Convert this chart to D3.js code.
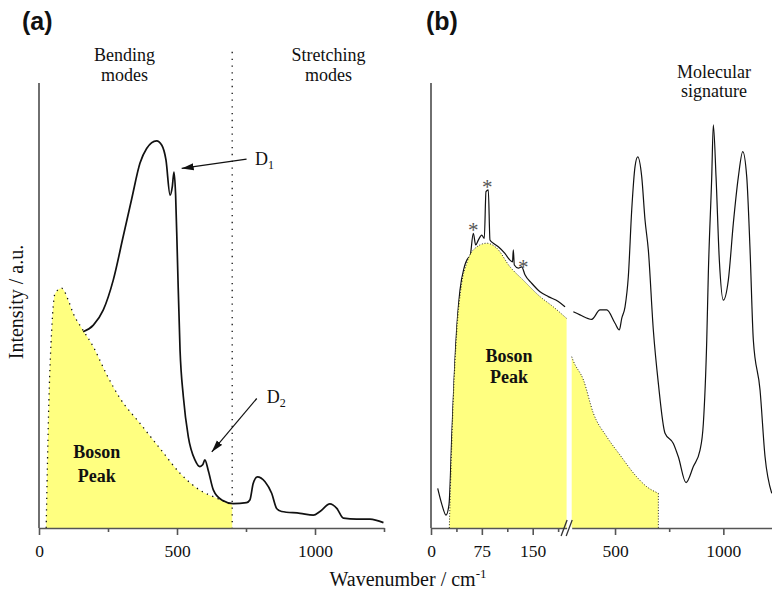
<!DOCTYPE html>
<html>
<head>
<meta charset="utf-8">
<script src="https://cdn.jsdelivr.net/npm/d3@7"></script>
<style>
  body { margin: 0; background: #fff; }
  svg { font-family: "Liberation Serif", "Times New Roman", Times, serif; }
  svg text { font-family: "Liberation Serif", "Times New Roman", Times, serif; fill: #111; }
  svg text.panel-tag { font-family: "Liberation Sans", Arial, sans-serif; font-weight: bold; }
  .x.axis path, .x.axis line { stroke: #555; stroke-width: 1.6; }
  .x.axis text { font-size: 17.5px; }
</style>
</head>
<body>
<div id="chart-area"></div>
<script>
// panel (a) Raman spectrum: [wavenumber, intensity]
const spectrumA = [
  [160, 44.1], [197, 45.6], [233, 49], [269, 55.7], [305, 65.5], [336, 74], [366, 82],
  [390, 85.3], [426, 87], [445, 86], [460, 82.7], [475, 74.8], [483, 76.7], [489, 80],
  [495, 74.8], [501, 61.8], [511, 40], [523, 29.5], [541, 20.5], [565, 15.3], [583, 13.8],
  [593, 14.2], [601, 15.3], [613, 13], [632, 8.5], [662, 6.3], [704, 5.5], [752, 5.7],
  [764, 6.3], [776, 10], [791, 11.5], [819, 10.4], [843, 7.8], [861, 4.4], [879, 3.7],
  [946, 3.3], [994, 2.9], [1018, 3.7], [1054, 5.4], [1079, 4.4], [1103, 2.2], [1151, 2.0],
  [1199, 2.0], [1248, 1.2]
];
const bosonA = [
  [26, 0], [36, 28.8], [46, 44.5], [58, 52.7], [82, 53.9], [106, 51.2], [124, 48.2],
  [155, 44.9], [197, 40.7], [245, 34.5], [293, 29.2], [366, 23.5], [438, 17.9],
  [511, 12.3], [583, 8.5], [644, 6.7], [700, 5.2]
];
// panel (b), low-frequency part (0-200 cm-1)
const spectrumBLow = [
  [9.9, 8.9], [16.2, 5.2], [22.1, 2.9], [26.5, 5.2], [31, 22], [36.9, 42.2], [42.8, 53.5],
  [48.7, 58.4], [55, 60.7], [57.5, 61], [62.4, 66.2], [65.9, 63.6], [69.8, 64.7],
  [74.8, 65.8], [78.6, 65.1], [81.1, 75.6], [84.5, 76], [87, 64.7], [91.9, 64],
  [99.3, 63.2], [109, 61.7], [116.5, 60.2], [120.2, 59.8], [121.4, 62.5], [122.9, 59.1],
  [128.8, 58.4], [133.8, 58.7], [138.6, 56.9], [148.5, 55], [160.8, 53.1], [173, 52],
  [187.8, 50.9], [197.6, 49.7]
];
const bosonBLow = [
  [27, 0], [32.9, 28.8], [37.9, 43.8], [45.3, 55], [52.7, 59.5], [62.4, 62.5], [82.2, 64],
  [96.9, 62.9], [116.5, 58.7], [136, 55.7], [160.8, 52], [180.4, 49.7], [200, 47.1]
];
// panel (b), high-frequency part (300-1250 cm-1)
const spectrumBHigh = [
  [307.5, 48.6], [338.4, 47.9], [392.4, 46.9], [430.7, 49], [461.7, 49], [500, 46],
  [519.9, 44.5], [531, 47.1], [546.2, 49.7], [561.4, 56.5], [577.1, 71.5], [592.3, 81.2],
  [604.8, 83.4], [623.3, 78.9], [638.5, 69.2], [653.7, 62.5], [676.8, 44.5], [700, 32.5],
  [730.8, 21.3], [769.2, 19], [792.2, 16], [827.8, 10.2], [861.5, 13.8], [892.4, 17.5],
  [907.7, 23.5], [923.4, 42.2], [930.7, 57.2], [946.4, 78.9], [953.8, 90.6], [966.3, 78.9],
  [981.5, 60.2], [1000, 51.2], [1023, 55.7], [1046.2, 68.5], [1069.3, 78.9], [1089.6, 84.6],
  [1108, 78.9], [1123.3, 62.5], [1138.5, 42.2], [1169.4, 31], [1192.5, 16], [1223.4, 7.8]
];
const bosonBHigh = [
  [300, 38.5], [307, 37.6], [354, 33.3], [400, 25.8], [462, 20.5], [523, 16.4],
  [600, 11.5], [646, 9.3], [700, 7.8]
];
const stars = [[62.4, 65.4], [83, 75.1], [136, 57.1]];

const ticksA = [0, 500, 1000];
const minorA = [250, 750, 1250];
const ticksBLow = [0, 75, 150];
const minorBLow = [37.5, 112.5, 187.5];
const ticksBHigh = [500, 1000];
const minorBHigh = [750];

const chartSize = { width: 772, height: 591 };
const axisY = 528, axisTop = 83;
const serif = '"Liberation Serif", "Times New Roman", Times, serif';

const y = d3.scaleLinear().domain([0, 100]).range([axisY, axisTop]);
const xa = d3.scaleLinear().domain([0, 1250]).range([39, 384]);
const xbL = d3.scaleLinear().domain([0, 200]).range([431, 566.6]);
const xbR = d3.scaleLinear().domain([300, 1250]).range([571.7, 777.5]);

const svg = d3.select('#chart-area').append('svg')
  .attr('width', chartSize.width)
  .attr('height', chartSize.height)
  .attr('font-family', serif);

svg.append('defs').append('marker')
  .attr('id', 'arrow')
  .attr('markerUnits', 'userSpaceOnUse')
  .attr('markerWidth', 13).attr('markerHeight', 8)
  .attr('refX', 12).attr('refY', 4)
  .attr('orient', 'auto')
  .append('path')
  .attr('d', 'M0,0.5 L12,4 L0,7.5 Z')
  .attr('fill', '#111');

const drawBoson = (g, x, pts, closeRight, dash) => {
  const area = d3.area().curve(d3.curveMonotoneX)
    .x(d => x(d[0])).y0(y(0)).y1(d => y(d[1]));
  g.append('path').datum(pts)
    .attr('d', area)
    .attr('fill', '#ffff80');
  const line = d3.line().curve(d3.curveMonotoneX)
    .x(d => x(d[0])).y(d => y(d[1]));
  g.append('path').datum(pts)
    .attr('d', line)
    .attr('fill', 'none').attr('stroke', '#111')
    .attr('stroke-width', dash.w).attr('stroke-dasharray', dash.a);
  if (closeRight) {
    const last = pts[pts.length - 1];
    g.append('line')
      .attr('x1', x(last[0])).attr('x2', x(last[0]))
      .attr('y1', y(last[1])).attr('y2', y(0))
      .attr('stroke', '#111')
      .attr('stroke-width', dash.w).attr('stroke-dasharray', dash.a);
  }
};

const drawSpectrum = (g, x, pts, w) => {
  const line = d3.line().curve(d3.curveMonotoneX)
    .x(d => x(d[0])).y(d => y(d[1]));
  g.append('path').datum(pts)
    .attr('d', line)
    .attr('fill', 'none')
    .attr('stroke', '#111')
    .attr('stroke-width', w)
    .attr('stroke-linejoin', 'round');
};

const drawAxis = (g, x, major, minor) => {
  g.append('g').attr('class', 'x axis')
    .attr('transform', `translate(0,${axisY})`)
    .call(d3.axisBottom(x).tickValues(major).tickSize(7).tickSizeOuter(0)
      .tickPadding(9.5).tickFormat(d3.format('d')))
    .attr('font-family', serif).attr('font-size', 17.5);
  const mg = g.append('g').attr('class', 'x axis')
    .attr('transform', `translate(0,${axisY})`)
    .call(d3.axisBottom(x).tickValues(minor).tickSize(4).tickSizeOuter(0).tickFormat(''));
  mg.select('.domain').remove();
};

// ---- panel (a)
const ga = svg.append('g').attr('class', 'panel-a');
drawBoson(ga, xa, bosonA, false, { w: 1.3, a: '1.3,4.5' });
ga.append('line')
  .attr('x1', xa(700)).attr('x2', xa(700))
  .attr('y1', y(107)).attr('y2', y(0))
  .attr('stroke', '#111').attr('stroke-width', 1.3).attr('stroke-dasharray', '1.3,5.5');
drawSpectrum(ga, xa, spectrumA, 1.7);
ga.append('line')
  .attr('x1', xa(0)).attr('x2', xa(0))
  .attr('y1', y(100)).attr('y2', y(0))
  .attr('stroke', '#222').attr('stroke-width', 1.3);
drawAxis(ga, xa, ticksA, minorA);

// annotations (a)
ga.append('line')
  .attr('x1', xa(752)).attr('y1', y(82.9))
  .attr('x2', xa(517)).attr('y2', y(80.8))
  .attr('stroke', '#111').attr('stroke-width', 1.2)
  .attr('marker-end', 'url(#arrow)');
ga.append('line')
  .attr('x1', xa(789)).attr('y1', y(29.1))
  .attr('x2', xa(626)).attr('y2', y(17.1))
  .attr('stroke', '#111').attr('stroke-width', 1.2)
  .attr('marker-end', 'url(#arrow)');
const dLabel = (g, x, w, i, sub) => {
  const t = g.append('text').attr('x', x(w)).attr('y', y(i)).attr('font-size', 18).text('D');
  t.append('tspan').attr('font-size', 12).attr('dy', 4).text(sub);
};
dLabel(ga, xa, 782.6, 81.6, '1');
dLabel(ga, xa, 825, 28.1, '2');

const twoLines = (g, x, w, i1, i2, l1, l2, bold) => {
  [[i1, l1], [i2, l2]].forEach(([i, l]) => {
    g.append('text')
      .attr('x', x(w)).attr('y', y(i))
      .attr('text-anchor', 'middle')
      .attr('font-size', 18)
      .attr('font-weight', bold ? 'bold' : 'normal')
      .text(l);
  });
};
twoLines(ga, xa, 310, 104.9, 100.4, 'Bending', 'modes', false);
twoLines(ga, xa, 1049, 104.9, 100.4, 'Stretching', 'modes', false);
twoLines(ga, xa, 209, 15.7, 10.4, 'Boson', 'Peak', true);

// ---- panel (b)
const gb = svg.append('g').attr('class', 'panel-b');
drawSpectrum(gb, xbL, spectrumBLow, 1.2);
drawBoson(gb, xbL, bosonBLow, false, { w: 0.9, a: '1,1.8' });
drawBoson(gb, xbR, bosonBHigh, true, { w: 0.9, a: '1,1.8' });
drawSpectrum(gb, xbR, spectrumBHigh, 1.2);
gb.append('line')
  .attr('x1', xbL(0)).attr('x2', xbL(0))
  .attr('y1', y(100)).attr('y2', y(0))
  .attr('stroke', '#222').attr('stroke-width', 1.3);
drawAxis(gb, xbL, ticksBLow, minorBLow);
drawAxis(gb, xbR, ticksBHigh, minorBHigh);

// axis break marks
[xbL(200) - 2.5, xbR(300) - 2.5].forEach(bx => {
  gb.append('line')
    .attr('x1', bx - 3).attr('y1', axisY + 8)
    .attr('x2', bx + 3).attr('y2', axisY - 8)
    .attr('stroke', '#333').attr('stroke-width', 1.3);
});

gb.selectAll('.star').data(stars).join('text')
  .attr('class', 'star')
  .attr('x', d => xbL(d[0])).attr('y', d => y(d[1]))
  .attr('text-anchor', 'middle')
  .attr('font-size', 21)
  .style('fill', '#555')
  .text('*');

twoLines(gb, xbL, 115, 37.4, 32.6, 'Boson', 'Peak', true);
twoLines(gb, xbR, 957, 101.1, 96.9, 'Molecular', 'signature', false);

// ---- panel tags and axis titles
svg.append('text').attr('class', 'panel-tag')
  .attr('x', 22).attr('y', 30).attr('font-size', 25).text('(a)');
svg.append('text').attr('class', 'panel-tag')
  .attr('x', 426).attr('y', 30).attr('font-size', 25).text('(b)');

svg.append('text')
  .attr('transform', 'translate(23,302) rotate(-90)')
  .attr('text-anchor', 'middle')
  .attr('font-size', 20)
  .text('Intensity / a.u.');

const xt = svg.append('text')
  .attr('x', 408).attr('y', 586)
  .attr('text-anchor', 'middle')
  .attr('font-size', 20)
  .text('Wavenumber / cm');
xt.append('tspan').attr('font-size', 13).attr('dy', -8).text('-1');
</script>
</body>
</html>
